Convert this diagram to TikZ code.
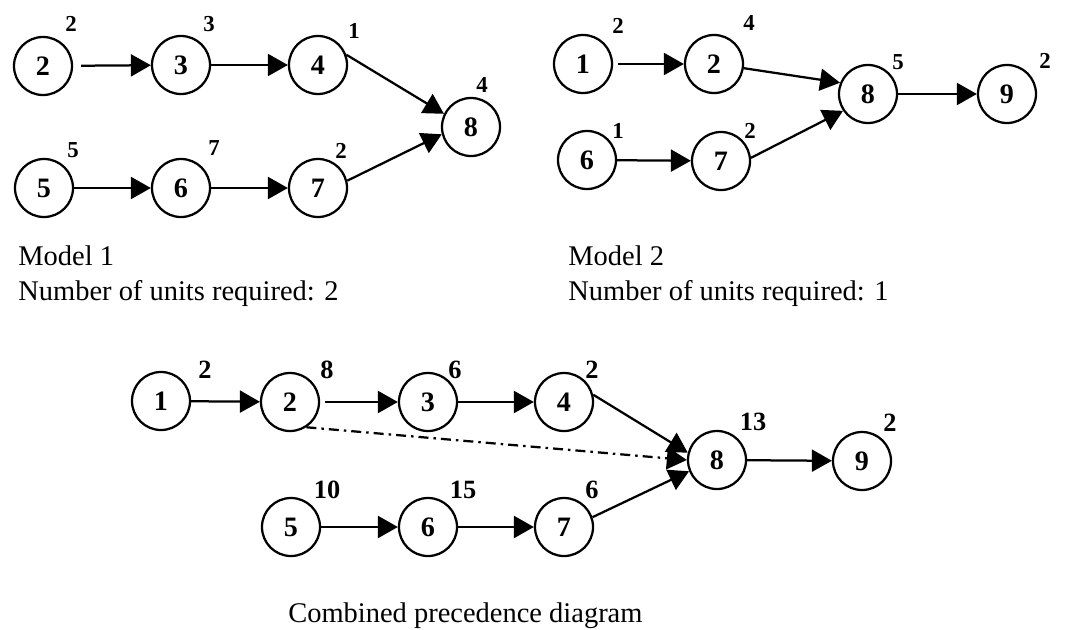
\documentclass[tikz,border=0pt]{standalone}
\usepackage{fontspec}
\setmainfont{Liberation Serif}
\usetikzlibrary{arrows.meta}
\begin{document}
\begin{tikzpicture}[x=0.2mm,y=-0.2mm,
  nd/.style={circle,draw,line width=0.45mm,minimum size=11.6mm,inner sep=0pt,font=\fontsize{16}{18}\selectfont\bfseries},
  lbl/.style={inner sep=0pt,font=\fontsize{13}{15}\selectfont\bfseries},
  clbl/.style={inner sep=0pt,font=\fontsize{15}{17}\selectfont\bfseries},
  txt/.style={inner sep=0pt,anchor=base west,font=\fontsize{16.2}{19}\selectfont},
  arr/.style={-{Triangle[length=4mm,width=4.4mm]},line width=0.45mm},
  dashdot/.style={dash pattern=on 2mm off 1mm on 0.5mm off 1mm}]
\useasboundingbox (0,0) rectangle (1085,630);

% ---------- Model 1 ----------
\node[nd] (a2) at (43,66) {2};
\node[nd] (a3) at (181,65) {3};
\node[nd] (a4) at (318,65) {4};
\node[nd] (a8) at (471,127) {8};
\node[nd] (a5) at (44,188) {5};
\node[nd] (a6) at (181,188) {6};
\node[nd] (a7) at (318,188) {7};
\node[lbl] (la2) at (71,24) {2};
\node[lbl] (la3) at (209,24) {3};
\node[lbl] (la4) at (354,31) {1};
\node[lbl] (la8) at (482,85) {4};
\node[lbl] (la5) at (73,150) {5};
\node[lbl] (la6) at (214,148) {7};
\node[lbl] (la7) at (341,151) {2};
\draw[arr,shorten <=1.6mm] (a2) -- (a3);
\draw[arr] (a3) -- (a4);
\draw[arr] (a4.20) -- (a8.154);
\draw[arr] (a5) -- (a6);
\draw[arr] (a6) -- (a7);
\draw[arr] (a7.14) -- (a8.194);
\node[txt] (t1) at (18,265) {Model 1};
\node[txt] (t2) at (18,300) {Number of units required: 2};

% ---------- Model 2 ----------
\node[nd] (b1) at (583,64) {1};
\node[nd] (b2) at (714,64) {2};
\node[nd] (b8) at (868,94) {8};
\node[nd] (b9) at (1007,94) {9};
\node[nd] (b6) at (587,160) {6};
\node[nd] (b7) at (721,161) {7};
\node[lbl] (lb1) at (618,26) {2};
\node[lbl] (lb2) at (749,23) {4};
\node[lbl] (lb8) at (898,62) {5};
\node[lbl] (lb9) at (1045,61) {2};
\node[lbl] (lb6) at (618,131) {1};
\node[lbl] (lb7) at (750,131) {2};
\draw[arr,shorten <=1mm] (b1) -- (b2);
\draw[arr] (b2.-8) -- (b8.158);
\draw[arr] (b6) -- (b7);
\draw[arr] (b7.6) -- (b8.214);
\draw[arr] (b8) -- (b9);
\node[txt] (t3) at (568,265) {Model 2};
\node[txt] (t4) at (568,300) {Number of units required: 1};

% ---------- Combined ----------
\node[nd] (c1) at (161,401) {1};
\node[nd] (c2) at (290,402) {2};
\node[nd] (c3) at (428,402) {3};
\node[nd] (c4) at (564,402) {4};
\node[nd] (c8) at (717,460) {8};
\node[nd] (c9) at (862,461) {9};
\node[nd] (c5) at (291,527) {5};
\node[nd] (c6) at (428,527) {6};
\node[nd] (c7) at (564,527) {7};
\node[clbl] (lc1) at (205,370) {2};
\node[clbl] (lc2) at (327,370) {8};
\node[clbl] (lc3) at (455,370) {6};
\node[clbl] (lc4) at (592,370) {2};
\node[clbl] (lc5) at (327,490) {10};
\node[clbl] (lc6) at (463,490) {15};
\node[clbl] (lc7) at (592,490) {6};
\node[clbl] (lc8) at (753,422) {13};
\node[clbl] (lc9) at (890,423) {2};
\draw[arr] (c1) -- (c2);
\draw[arr,shorten <=1mm] (c2) -- (c3);
\draw[arr] (c3) -- (c4);
\draw[arr] (c4.14) -- (c8.166);
\draw[arr,dashdot] (c2.-57) -- (c8.west);
\draw[arr] (c7.19) -- (c8.202);
\draw[arr] (c5) -- (c6);
\draw[arr] (c6) -- (c7);
\draw[arr] (c8) -- (c9);
\node[txt] (t5) at (288,622) {Combined precedence diagram};
\end{tikzpicture}
\end{document}
